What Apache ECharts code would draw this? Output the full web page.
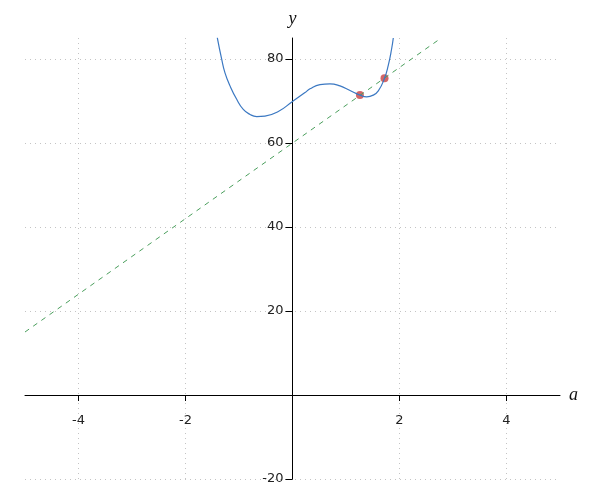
<!DOCTYPE html>
<html>
<head>
<meta charset="utf-8">
<script src="https://cdn.jsdelivr.net/npm/echarts@6/dist/echarts.min.js"></script>
<style>html,body{margin:0;padding:0;background:#fff}#c{width:600px;height:500px}</style>
</head>
<body>
<div id="c"></div>
<script>
// Data
var curveX = [-1.406, -1.323, -1.262, -1.168, -1.043, -0.920, -0.794, -0.669, -0.514, -0.265, 0, 0.234, 0.327, 0.514, 0.7, 0.888, 1.075, 1.262, 1.387, 1.51, 1.604, 1.716, 1.79, 1.854, 1.884];
var curveY = [85.1, 79.9, 76.7, 73.6, 70.4, 68.0, 66.8, 66.3, 66.4, 67.5, 69.9, 72.0, 72.9, 73.9, 74.1, 73.6, 72.5, 71.4, 71.0, 71.4, 72.4, 75.3, 78.5, 82.5, 85.0];
var lineX = [-5, 2.78];
var lineY = [15, 85];
var pointX = [1.26, 1.72];
var pointY = [71.4, 75.4];
var xTicks = [-4, -2, 2, 4];
var yTicks = [-20, 20, 40, 60, 80];

function zip(a, b) { return a.map(function (v, i) { return [v, b[i]]; }); }

var chart = echarts.init(document.getElementById('c'), null, {renderer: 'canvas'});
var gridLine = {show: true, lineStyle: {color: '#c4c4c4', type: [1, 4], width: 1}};
var labelStyle = {color: '#222', fontSize: 13, fontFamily: 'DejaVu Sans'};
var nameStyle = {fontFamily: 'Liberation Serif', fontStyle: 'italic', fontSize: 18, color: '#111'};
chart.setOption({
  animation: false,
  grid: {left: 25, right: 40, top: 38, bottom: 21, containLabel: false, outerBoundsMode: 'none'},
  xAxis: {
    type: 'value', min: -5, max: 5,
    name: 'a', nameLocation: 'end', nameGap: 9, nameTextStyle: nameStyle,
    axisLine: {show: true, onZero: false, lineStyle: {color: '#000', width: 1}},
    axisTick: {show: true, length: 6, customValues: xTicks, lineStyle: {color: '#000'}},
    axisLabel: Object.assign({customValues: xTicks, margin: 19, hideOverlap: false}, labelStyle),
    splitLine: gridLine
  },
  yAxis: {
    type: 'value', min: -20, max: 85,
    name: 'y', nameLocation: 'end', nameGap: 10, nameTextStyle: nameStyle,
    axisLine: {show: true, onZero: false, lineStyle: {color: '#000', width: 1}},
    axisTick: {show: true, length: 7, customValues: yTicks, lineStyle: {color: '#000'}},
    axisLabel: Object.assign({customValues: yTicks, margin: 9, hideOverlap: false}, labelStyle),
    splitLine: gridLine
  },
  series: [
    {
      type: 'line', data: zip(lineX, lineY), showSymbol: false, silent: true,
      lineStyle: {color: '#4a9e5c', width: 1, type: [5, 5]}
    },
    {
      type: 'line', data: zip(curveX, curveY), showSymbol: false, smooth: 0.5, silent: true,
      lineStyle: {color: '#3b78c2', width: 1.2}
    },
    {
      type: 'scatter', data: zip(pointX, pointY), symbolSize: 8, silent: true,
      itemStyle: {color: '#c94040'}
    }
  ]
});
// Move the axes so they cross at the data origin (computed through the chart's own scales)
var rect = chart.getModel().getComponent('grid').coordinateSystem.getRect();
var origin = chart.convertToPixel({gridIndex: 0}, [0, 0]);
chart.setOption({
  xAxis: {offset: -(rect.y + rect.height - origin[1])},
  yAxis: {offset: -(origin[0] - rect.x)}
});
</script>
</body>
</html>
